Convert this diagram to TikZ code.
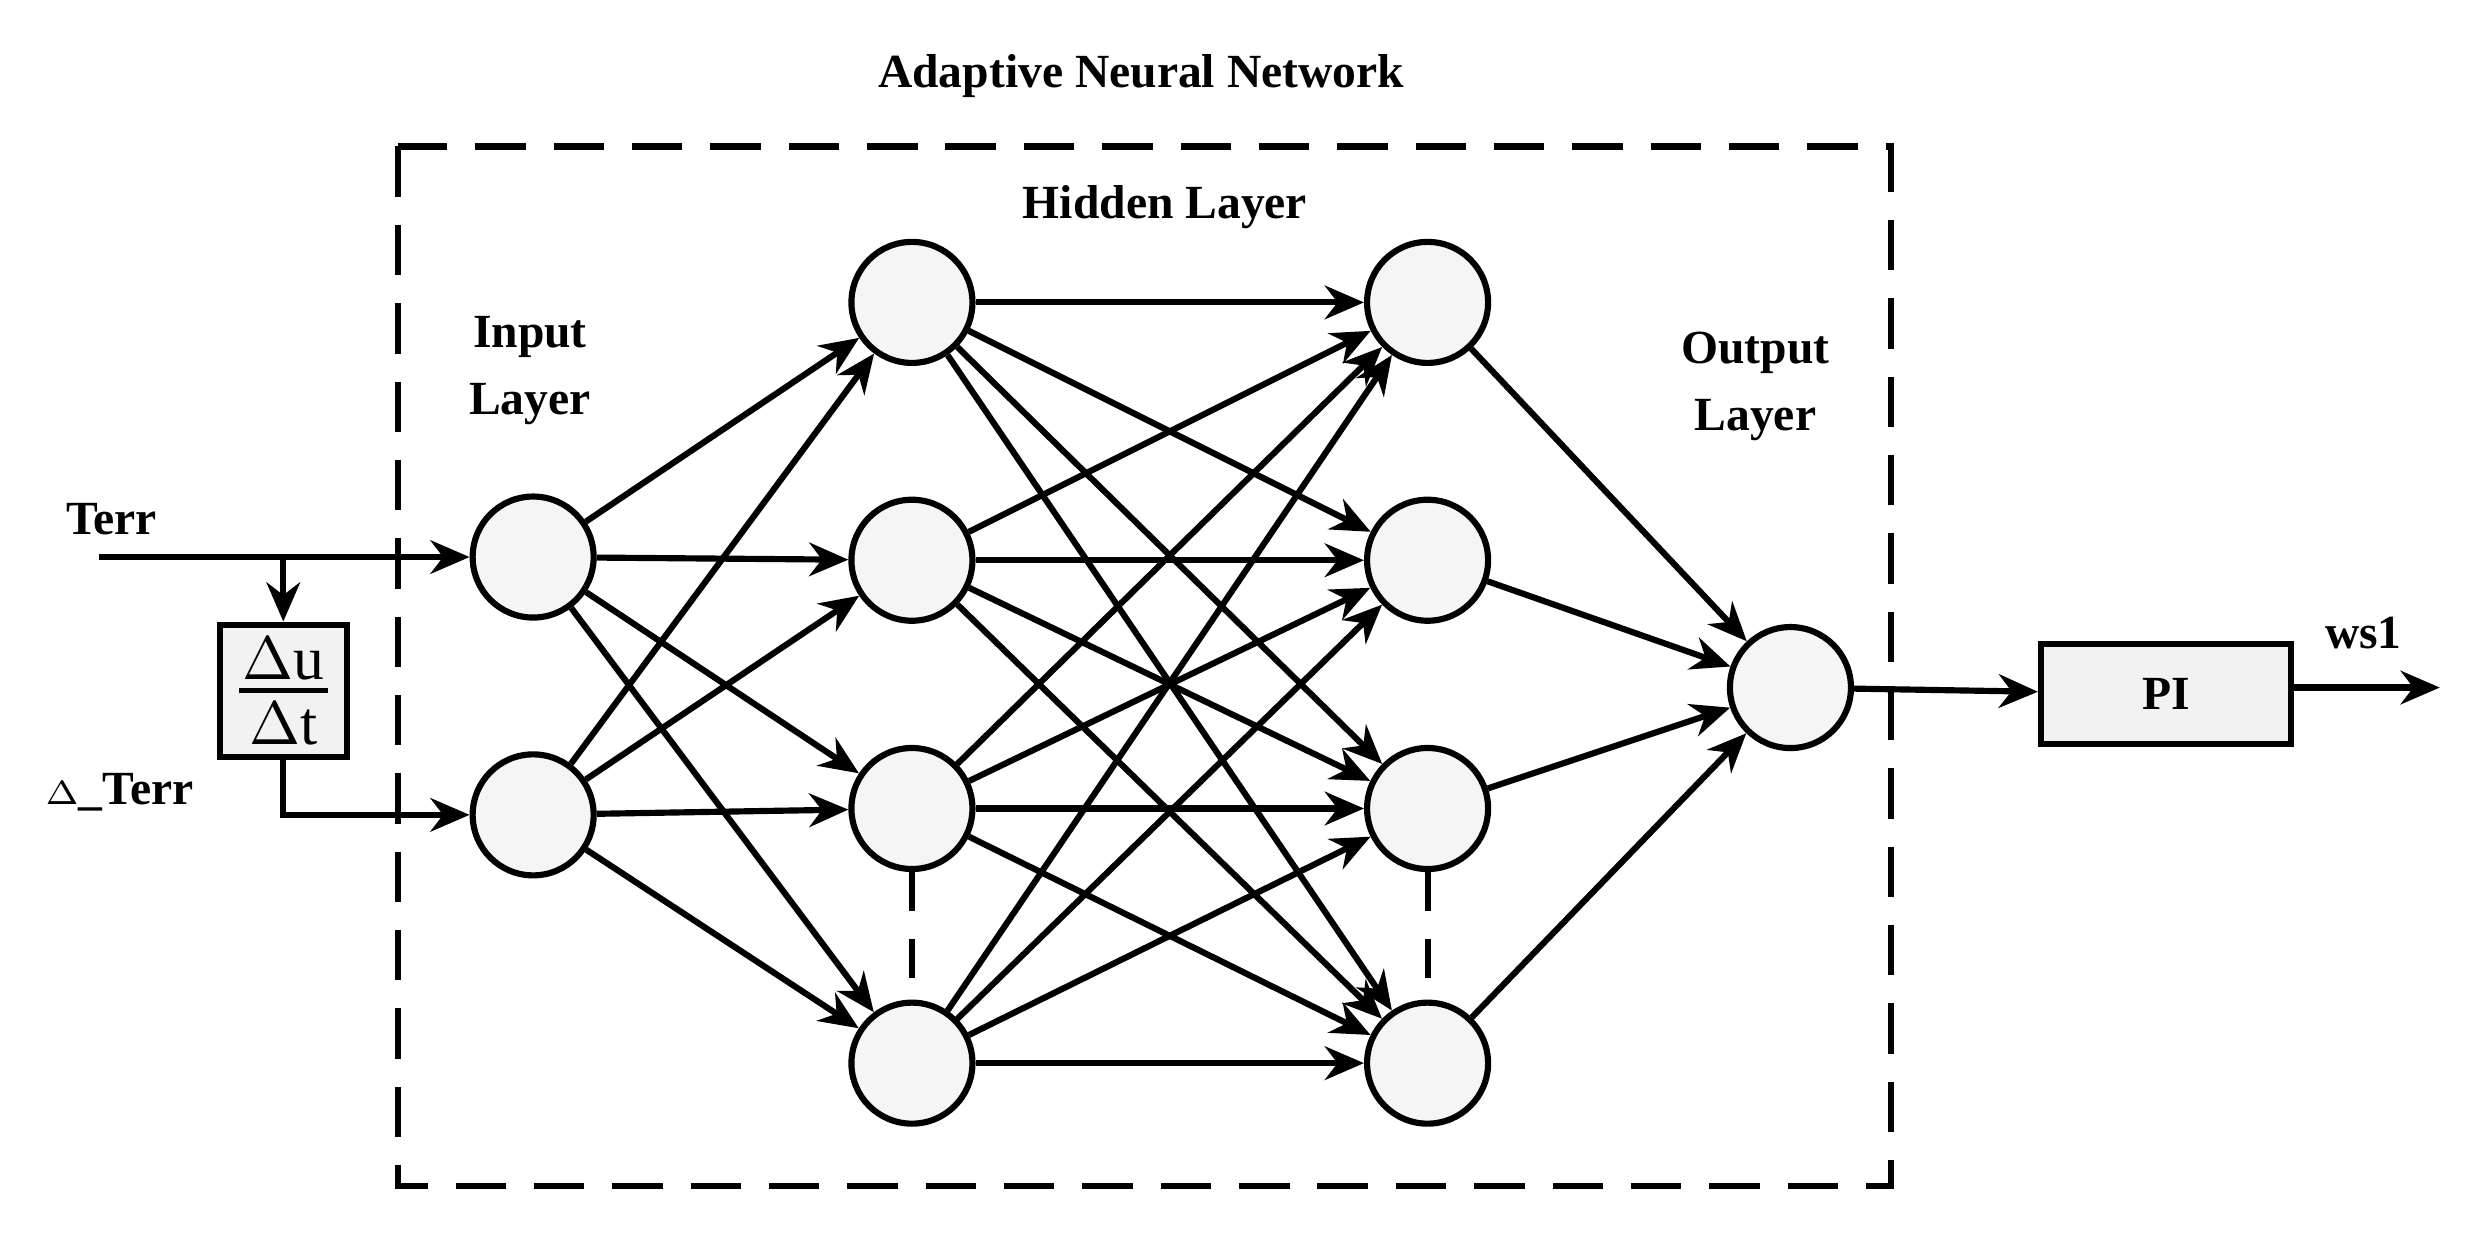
\documentclass[tikz,border=0pt]{standalone}
\usepackage{fontspec}
\setmainfont{Liberation Serif}
\usetikzlibrary{arrows.meta}
\begin{document}
\begin{tikzpicture}[x=0.01cm,y=-0.01cm,
  neuron/.style={circle,draw,line width=1.1pt,fill=gray!8,minimum size=0.76cm,inner sep=0pt},
  conn/.style={line width=1.1pt,-{Stealth[length=7pt,width=6pt]}},
  lbl/.style={font=\fontsize{8.5}{10}\selectfont\bfseries,align=center},
  box/.style={draw,line width=1.1pt,fill=gray!10}]
\useasboundingbox (0,0) rectangle (1552,787);
\draw[line width=1.1pt,dashed,dash pattern=on 9pt off 5pt] (250,92) rectangle (1188,745);
\node[lbl] (title) at (717,48) {Adaptive Neural Network};
\node[lbl] (hid) at (732,130) {Hidden Layer};
\node[lbl] (inl) at (333,233) {Input\\[2pt]Layer};
\node[lbl] (outl) at (1103,243) {Output\\[2pt]Layer};
\node[neuron] (i1) at (335,350) {};
\node[neuron] (i2) at (335,512) {};
\foreach \k/\y in {1/190,2/352,3/508,4/668}{
  \node[neuron] (a\k) at (573,\y) {};
  \node[neuron] (b\k) at (897,\y) {};
}
\node[neuron] (o) at (1125,432) {};
\node[box,minimum width=1.57cm,minimum height=0.63cm] (pi) at (1361,436) {};
\node[lbl] at (pi) {PI};
\node[box,minimum width=0.8cm,minimum height=0.83cm,inner sep=0pt] (d) at (178,434) {};
\draw[line width=0.8pt] (150,434) -- (206,434);
\node[font=\fontsize{11}{12}\selectfont] (du) at (178,414) {$\Delta$u};
\node[font=\fontsize{11}{12}\selectfont] (dt) at (178,455) {$\Delta$t};
\foreach \i in {1,2}\foreach \k in {1,...,4}\draw[conn] (i\i) -- (a\k);
\foreach \i in {1,...,4}\foreach \k in {1,...,4}\draw[conn] (a\i) -- (b\k);
\foreach \k in {1,...,4}\draw[conn] (b\k) -- (o);
\draw[line width=1.1pt,dashed,dash pattern=on 7pt off 5pt] (a3) -- (a4);
\draw[line width=1.1pt,dashed,dash pattern=on 7pt off 5pt] (b3) -- (b4);
\coordinate (tin) at (62,350);
\coordinate (br) at (178,350);
\coordinate (cor) at (178,512);
\coordinate (wout) at (1533,432);
\draw[conn] (tin) -- (i1);
\draw[conn] (br) -- (d.north);
\draw[conn] (d.south) -- (cor) -- (i2);
\draw[conn] (o) -- (pi);
\draw[conn] (pi.east|-o) -- (wout);
\node[lbl] (terr) at (70,326) {Terr};
\node[lbl] (dterr) at (75,498) {$\scriptstyle\Delta$\_Terr};
\node[lbl] (ws) at (1485,398) {ws1};
\end{tikzpicture}
\end{document}
